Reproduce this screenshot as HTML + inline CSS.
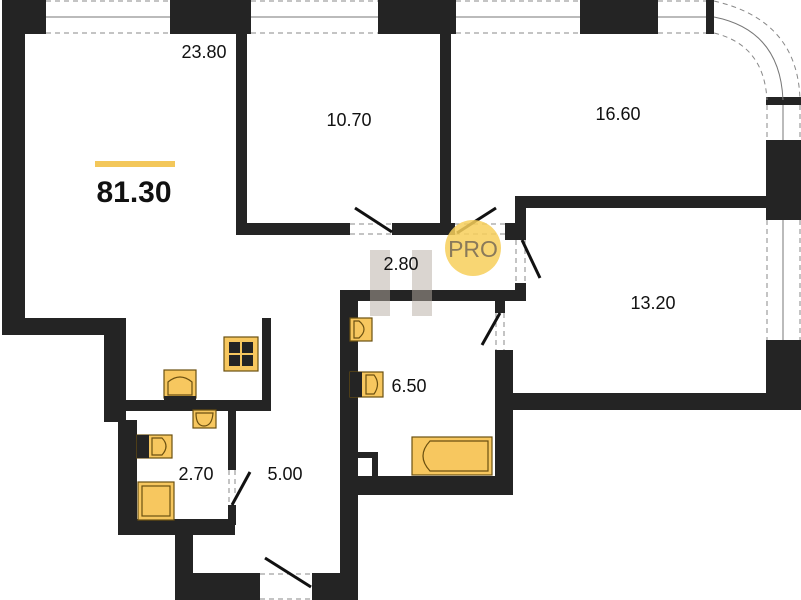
<!DOCTYPE html>
<html><head><meta charset="utf-8"><style>
html,body{margin:0;padding:0;background:#fff;}
svg{display:block;}
text{font-family:"Liberation Sans","DejaVu Sans",sans-serif;fill:#111;}
</style></head><body>
<svg width="801" height="600" viewBox="0 0 801 600" xmlns="http://www.w3.org/2000/svg">
<g fill="#242424">
<rect x="2" y="0" width="44" height="34"/>
<rect x="170" y="0" width="81" height="34"/>
<rect x="378" y="0" width="78" height="34"/>
<rect x="580" y="0" width="78" height="34"/>
<rect x="706" y="0" width="8" height="34"/>
<rect x="2" y="0" width="23" height="335"/>
<rect x="2" y="318" width="124" height="17"/>
<rect x="104" y="318" width="22" height="104"/>
<rect x="118" y="420" width="19" height="115"/>
<rect x="118" y="519" width="117" height="16"/>
<rect x="175" y="519" width="18" height="81"/>
<rect x="175" y="573" width="85" height="27"/>
<rect x="312" y="573" width="46" height="27"/>
<rect x="340" y="290" width="18" height="310"/>
<rect x="125" y="400" width="145" height="11"/>
<rect x="262" y="318" width="9" height="93"/>
<rect x="228" y="410" width="8" height="60"/>
<rect x="228" y="505" width="8" height="20"/>
<rect x="236" y="0" width="11" height="235"/>
<rect x="236" y="223" width="114" height="12"/>
<rect x="392" y="223" width="63" height="12"/>
<rect x="440" y="0" width="11" height="235"/>
<rect x="505" y="223" width="21" height="17"/>
<rect x="515" y="196" width="252" height="12"/>
<rect x="515" y="196" width="11" height="44"/>
<rect x="515" y="283" width="11" height="18"/>
<rect x="340" y="290" width="186" height="11"/>
<rect x="766" y="140" width="35" height="80"/>
<rect x="766" y="340" width="35" height="70"/>
<rect x="495" y="393" width="306" height="17"/>
<rect x="495" y="301" width="10" height="12"/>
<rect x="495" y="350" width="18" height="145"/>
<rect x="340" y="476" width="173" height="19"/>
<rect x="345" y="452" width="33" height="6"/>
<rect x="372" y="452" width="6" height="26"/>
<rect x="766" y="97" width="35" height="8"/>
</g>
<g stroke="#888" stroke-width="1" fill="none" stroke-dasharray="5,4">
<line x1="46" y1="1" x2="170" y2="1"/><line x1="46" y1="33" x2="170" y2="33"/>
<line x1="251" y1="1" x2="378" y2="1"/><line x1="251" y1="33" x2="378" y2="33"/>
<line x1="456" y1="1" x2="580" y2="1"/><line x1="456" y1="33" x2="580" y2="33"/>
<line x1="658" y1="1" x2="706" y2="1"/><line x1="658" y1="33" x2="706" y2="33"/>
<path d="M714 1 Q798 20 800 100"/><path d="M714 33 Q764 45 767 100"/>
<line x1="767" y1="105" x2="767" y2="140"/><line x1="800" y1="105" x2="800" y2="140"/>
<line x1="767" y1="220" x2="767" y2="340"/><line x1="800" y1="220" x2="800" y2="340"/>
<line x1="350" y1="224" x2="392" y2="224"/><line x1="350" y1="234" x2="392" y2="234"/>
<line x1="455" y1="224" x2="505" y2="224"/><line x1="455" y1="234" x2="505" y2="234"/>
<line x1="516" y1="240" x2="516" y2="283"/><line x1="525" y1="240" x2="525" y2="283"/>
<line x1="496" y1="313" x2="496" y2="350"/><line x1="504" y1="313" x2="504" y2="350"/>
<line x1="229" y1="470" x2="229" y2="505"/><line x1="235" y1="470" x2="235" y2="505"/>
<line x1="260" y1="574" x2="312" y2="574"/><line x1="260" y1="599" x2="312" y2="599"/>
</g>
<g stroke="#777" stroke-width="1" fill="none">
<line x1="46" y1="17" x2="170" y2="17"/><line x1="251" y1="17" x2="378" y2="17"/>
<line x1="456" y1="17" x2="580" y2="17"/><line x1="658" y1="17" x2="706" y2="17"/>
<path d="M714 17 Q780 30 783 100"/><line x1="783" y1="105" x2="783" y2="140"/>
<line x1="783" y1="220" x2="783" y2="340"/>
</g>
<g stroke="#111" stroke-width="3" fill="none">
<line x1="392" y1="232" x2="355" y2="208"/>
<line x1="457" y1="233" x2="496" y2="208"/>
<line x1="522" y1="240" x2="540" y2="278"/>
<line x1="500" y1="313" x2="482" y2="345"/>
<line x1="232" y1="505" x2="250" y2="472"/>
<line x1="311" y1="587" x2="265" y2="558"/>
</g>
<g fill="#f7c75f" stroke="#6b5010" stroke-width="1.2">
<rect x="224" y="337" width="34" height="34"/>
<rect x="164" y="370" width="32" height="28"/>
<rect x="193" y="410" width="23" height="18"/>
<rect x="137" y="435" width="35" height="23"/>
<rect x="138" y="482" width="36" height="38"/>
<rect x="350" y="318" width="22" height="23"/>
<rect x="350" y="372" width="33" height="25"/>
<rect x="412" y="437" width="80" height="38"/>
</g>
<g fill="#242424">
<rect x="229" y="342" width="11" height="11"/><rect x="242" y="342" width="11" height="11"/>
<rect x="229" y="355" width="11" height="11"/><rect x="242" y="355" width="11" height="11"/>
<rect x="137" y="435" width="12" height="23"/>
<rect x="350" y="372" width="12" height="25"/>
<rect x="164" y="396" width="32" height="4"/>
</g>
<g fill="none" stroke="#6b5010" stroke-width="1.2">
<path d="M168 395 V382 Q180 372 192 382 V395 Z"/>
<path d="M196 413 H213 Q212 426 204 426 Q196 426 196 413Z"/>
<path d="M152 438 H162 Q170 446 162 455 H152Z"/>
<rect x="142" y="486" width="28" height="30"/>
<path d="M354 321 H359 Q369 329 359 338 H354Z"/>
<path d="M366 375 H374 Q381 384 374 394 H366Z"/>
<path d="M430 441 H488 V471 H430 Q416 456 430 441Z"/>
</g>
<circle cx="473" cy="248" r="28" fill="#f7cf5a" opacity="0.85"/>
<text x="473" y="257" font-size="23" text-anchor="middle" style="fill:#8a7a5a">PRO</text>
<rect x="370" y="250" width="20" height="66" fill="#b5aca2" opacity="0.5"/>
<rect x="412" y="250" width="20" height="66" fill="#b5aca2" opacity="0.5"/>
<rect x="95" y="161" width="80" height="6" fill="#f3c75a"/>
<text x="134" y="202" font-size="30" font-weight="bold" text-anchor="middle">81.30</text>
<g font-size="18" text-anchor="middle">
<text x="204" y="58">23.80</text>
<text x="349" y="126">10.70</text>
<text x="618" y="120">16.60</text>
<text x="401" y="270">2.80</text>
<text x="653" y="309">13.20</text>
<text x="409" y="392">6.50</text>
<text x="196" y="480">2.70</text>
<text x="285" y="480">5.00</text>
</g>
</svg>
</body></html>
